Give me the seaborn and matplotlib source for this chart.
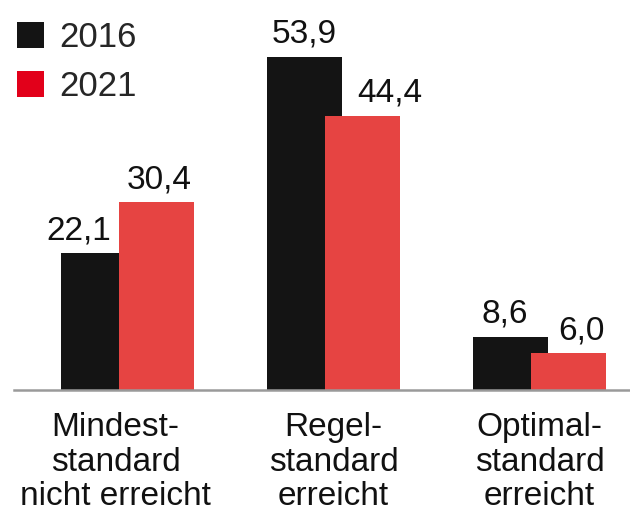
import matplotlib
matplotlib.use("Agg")
import matplotlib.pyplot as plt
import matplotlib.transforms as mtransforms
import pandas as pd
import seaborn as sns

categories = ["Mindest-\nstandard\nnicht erreicht", "Regel-\nstandard\nerreicht", "Optimal-\nstandard\nerreicht"]
years = ["2016", "2021"]
values_2016 = [22.1, 53.9, 8.6]
values_2021 = [30.4, 44.4, 6.0]

table = pd.DataFrame({
    "kategorie": categories * 2,
    "jahr": [years[0]] * 3 + [years[1]] * 3,
    "wert": values_2016 + values_2021,
})

bar_colors = {"2016": "#141414", "2021": "#e64442"}
legend_colors = ["#141414", "#e2001a"]

sns.set_style("white")
plt.rcParams["font.family"] = ["Liberation Sans", "DejaVu Sans"]

fig = plt.figure(figsize=(6.3, 5.13), dpi=100)
ax = fig.add_axes([14 / 630, 123 / 513, 616 / 630, 390 / 513])

sns.barplot(table,
            x="kategorie",
            y="wert",
            hue="jahr",
            palette=bar_colors,
            saturation=1,
            width=0.56,
            gap=0,
            linewidth=0,
            ax=ax)

# overlapping bars: widen each bar around its own centre
bar_w = 0.365
for patch in ax.patches:
    if patch.get_height() == 0 and patch.get_width() == 0:
        continue
    cx = patch.get_x() + patch.get_width() / 2
    patch.set_width(bar_w)
    patch.set_x(cx - bar_w / 2)

# value labels, nudged like in the original
label_dx = {"2016": [-20, 0, -6], "2021": [3, 27, 13]}
for j, yr in enumerate(years):
    vals = values_2016 if yr == "2016" else values_2021
    for i, v in enumerate(vals):
        x = i + (-0.14 if j == 0 else 0.14)
        ax.annotate(f"{v:.1f}".replace(".", ","), (x, v),
                    xytext=(label_dx[yr][i] / 1.389, 10), textcoords="offset points",
                    ha="center", va="baseline", fontsize=24, color="#111111")

ax.set_xlim(-0.551, 2.439)
ax.set_ylim(0, 63.1)
ax.set_xlabel("")
ax.set_ylabel("")
ax.set_yticks([])
ax.tick_params(axis="x", length=0, pad=16, labelsize=24, labelcolor="#111111")
for lab in ax.get_xticklabels():
    lab.set_linespacing(1.15)
first = ax.get_xticklabels()[0]
first.set_transform(first.get_transform() + mtransforms.ScaledTranslation(-12 / 100, 0, fig.dpi_scale_trans))

for side in ["top", "left", "right"]:
    ax.spines[side].set_visible(False)
ax.spines["bottom"].set_color("#9a9a9a")
ax.spines["bottom"].set_linewidth(1.8)

leg = ax.legend(loc="upper left", bbox_to_anchor=(-18 / 616, 1.0), frameon=False,
                fontsize=25, handlelength=0.78, handleheight=0.78,
                handletextpad=0.45, labelspacing=0.47, borderaxespad=0.2,
                borderpad=0.4)
for h, c in zip(leg.legend_handles, legend_colors):
    h.set_facecolor(c)
    h.set_edgecolor(c)

fig.savefig("out.png", dpi=100)
